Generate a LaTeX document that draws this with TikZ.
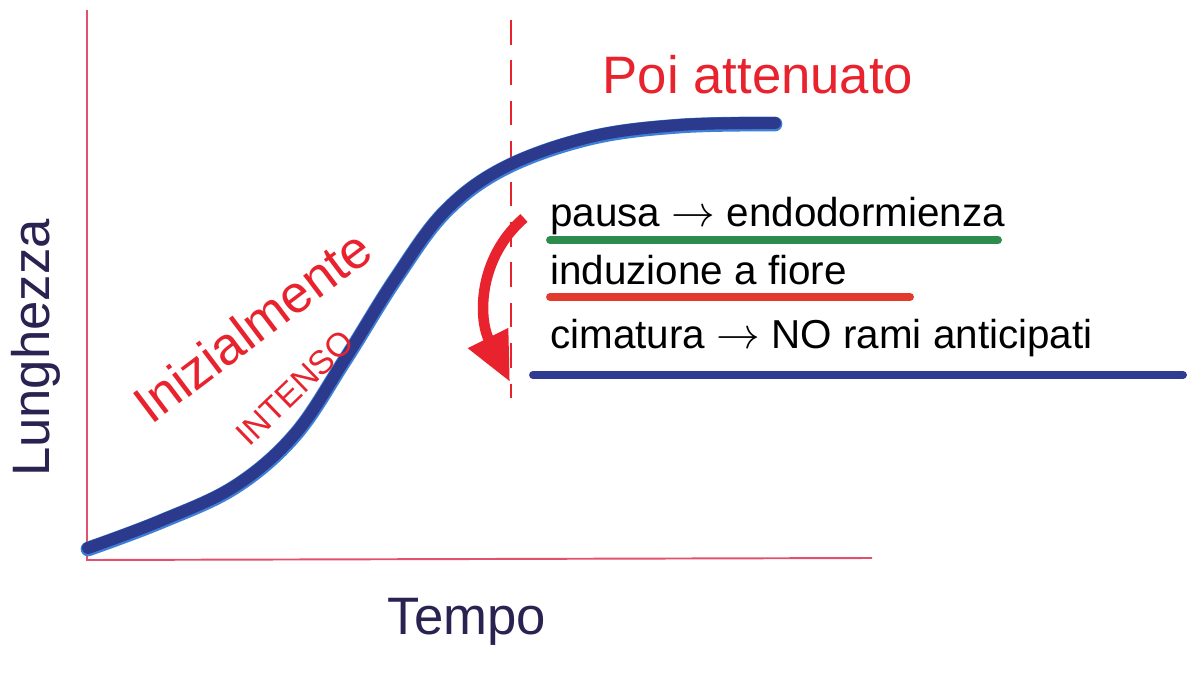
\documentclass[tikz,border=0pt]{standalone}
\usepackage{fontspec}
\setmainfont{Liberation Sans}
\usetikzlibrary{arrows.meta}
\definecolor{axisred}{HTML}{E2506E}
\definecolor{penred}{HTML}{E8232E}
\definecolor{curveblue}{HTML}{2B3A8C}
\definecolor{curveedge}{HTML}{3F7FD6}
\definecolor{pengreen}{HTML}{2E8B4E}
\definecolor{linered}{HTML}{E33A2E}
\definecolor{lineblue}{HTML}{2F3C92}
\definecolor{navy}{HTML}{2A2352}
\tikzset{
  axis/.style={draw=axisred, line width=1.1pt},
  redtext/.style={text=penred, inner sep=0pt},
  blacktext/.style={text=black, inner sep=0pt, anchor=base west, font=\fontsize{23}{26}\selectfont},
  navytext/.style={text=navy, inner sep=0pt},
  uline/.style={line width=4.5pt, line cap=round},
}
\begin{document}
\begin{tikzpicture}[x=0.02cm,y=-0.02cm]
\useasboundingbox[fill=white] (0,0) rectangle (1194,673);
% axes
\coordinate (ytop) at (87,10);
\coordinate (O) at (87,560);
\coordinate (xend) at (872,558);
\draw[axis] (ytop) -- (O) -- (xend);
% dashed divider
\coordinate (dtop) at (511,20);
\coordinate (dbot) at (511,398);
\draw[draw=penred, line width=1.3pt, dash pattern=on 14pt off 9pt] (dtop) -- (dbot);
% growth curve
\draw[curveedge, line width=8.4pt, line cap=round] plot[smooth, tension=0.6] coordinates {(88,549) (160,522) (235,487) (295,435) (345,360) (395,280) (445,212) (505,168) (590,138) (680,126) (775,124)};
\draw[curveblue, line width=6.8pt, line cap=round] plot[smooth, tension=0.6] coordinates {(88,548) (160,521) (235,486) (295,434) (345,359) (395,279) (445,211) (505,167) (590,137) (680,125) (775,123)};
% labels
\node[redtext, font=\fontsize{30}{34}\selectfont] (poi) at (758,75) {Poi attenuato};
\node[redtext, font=\fontsize{30}{34}\selectfont, rotate=37] (iniz) at (252,326) {Inizialmente};
\node[redtext, font=\fontsize{19}{22}\selectfont, rotate=44] (intenso) at (295,388) {INTENSO};
\node[navytext, font=\fontsize{30}{34}\selectfont, rotate=90] (lung) at (36,348) {Lunghezza};
\node[navytext, font=\fontsize{30}{34}\selectfont] (tempo) at (467,622) {Tempo};
% notes
\node[blacktext] (n1) at (550,226) {pausa $\rightarrow$ endodormienza};
\node[blacktext] (n2) at (550,284) {induzione a fiore};
\node[blacktext] (n3) at (550,348) {cimatura $\rightarrow$ NO rami anticipati};
\coordinate (g1) at (550,240); \coordinate (g2) at (998,240);
\coordinate (r1) at (550,297); \coordinate (r2) at (910,297);
\coordinate (b1) at (533,375); \coordinate (b2) at (1183,375);
\draw[uline, pengreen] (g1) -- (g2);
\draw[uline, linered] (r1) -- (r2);
\draw[uline, lineblue] (b1) -- (b2);
% red curved arrow
\coordinate (as) at (524,218);
\coordinate (ae) at (510,382);
\draw[penred, line width=6pt, -{Triangle[length=28pt,width=24pt]}] (as) .. controls (478,258) and (478,318) .. (ae);
\end{tikzpicture}
\end{document}
